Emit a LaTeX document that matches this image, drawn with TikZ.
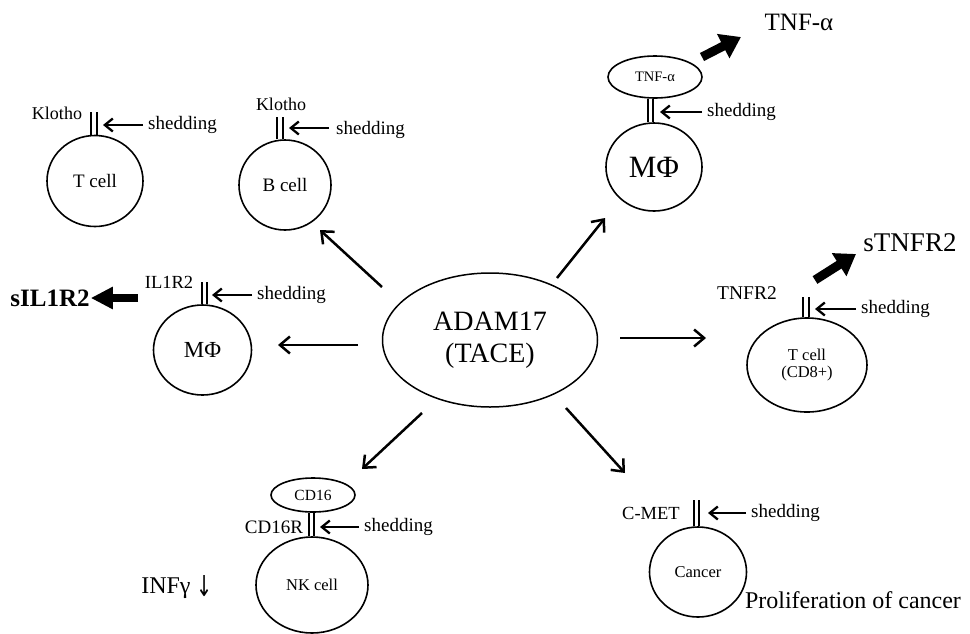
\documentclass[tikz,border=0pt]{standalone}
\usepackage{fontspec}
\usepackage{graphicx}
\setmainfont{Liberation Serif}
\newfontfamily\arrfont{DejaVu Sans}
\usetikzlibrary{shapes.geometric,arrows.meta}
\tikzset{
  cell/.style={draw,ellipse,line width=1.6pt,inner sep=0pt},
  lab/.style={inner sep=1pt},
  conn/.style={line width=2.5pt,-{Straight Barb[length=10pt,width=17pt,line width=2.5pt]}},
  shed/.style={line width=2.3pt,-{Straight Barb[length=8pt,width=13pt,line width=2.3pt]}},
  big/.style={line width=9pt,-{Triangle[length=20pt,width=26pt]}},
  rec/.style={line width=2.2pt},
}
\newcommand{\fs}[1]{\fontsize{#1}{#1}\selectfont}
\begin{document}
\begin{tikzpicture}[x=1pt,y=-1pt]
\useasboundingbox (0,0) rectangle (970,633);

% central node
\node[cell,line width=1.5pt,minimum width=215,minimum height=134,align=center,font=\fs{28}] (adam) at (490,340) {ADAM17\\[4pt](TACE)};

% T cell (Klotho)
\node[cell,minimum width=96,minimum height=91,font=\fs{19}] (tcell) at (95,181) {T cell};
\coordinate (tcr) at (94,112);
\draw[rec] ([xshift=-2.7]tcr |- tcell.north) -- ([xshift=-2.7]tcr) ([xshift=2.7]tcr |- tcell.north) -- ([xshift=2.7]tcr);
\node[lab,font=\fs{18}] (kl1) at (57,113) {Klotho};
\node[lab,anchor=west,font=\fs{19}] (sh1) at (147,125) {shedding};
\coordinate (sh1t) at (103,125);
\draw[shed] (sh1.west) ++(-4,0) -- (sh1t);

% B cell (Klotho)
\node[cell,minimum width=92,minimum height=90,font=\fs{19}] (bcell) at (285,185) {B cell};
\coordinate (bcr) at (280,117);
\draw[rec] ([xshift=-2.7]bcr |- bcell.north) -- ([xshift=-2.7]bcr) ([xshift=2.7]bcr |- bcell.north) -- ([xshift=2.7]bcr);
\node[lab,font=\fs{18}] (kl2) at (281,104) {Klotho};
\node[lab,anchor=west,font=\fs{19}] (sh2) at (335,130) {shedding};
\coordinate (sh2t) at (289,128);
\draw[shed] (sh2.west) ++(-6,-2) -- (sh2t);

% left macrophage (IL1R2)
\node[cell,minimum width=98,minimum height=90,font=\fs{23}] (mp1) at (202.5,350) {MΦ};
\coordinate (mp1r) at (204.5,282);
\draw[rec] ([xshift=-2.7]mp1r |- mp1.north) -- ([xshift=-2.7]mp1r) ([xshift=2.7]mp1r |- mp1.north) -- ([xshift=2.7]mp1r);
\node[lab,font=\fs{18.5}] (il1r2) at (169,282) {IL1R2};
\node[lab,anchor=west,font=\fs{19}] (sh3) at (256,295) {shedding};
\coordinate (sh3t) at (212,295);
\draw[shed] (sh3.west) ++(-4,0) -- (sh3t);
\node[lab,font=\bfseries\fs{25}] (sil) at (50,298) {sIL1R2};
\coordinate (silb) at (138,298);
\draw[line width=7.5pt,-{Triangle[length=22pt,width=21pt]}] (silb) -- (sil.east);

% top macrophage (TNF-alpha)
\node[cell,minimum width=96,minimum height=88,font=\fs{31}] (mp2) at (654,167) {MΦ};
\node[cell,minimum width=94,minimum height=42,font=\fs{14.5}] (tnfm) at (655,77) {TNF-α};
\coordinate (mp2r) at (650.5,98);
\draw[rec] ([xshift=-2.7]mp2r |- tnfm.south) -- ([xshift=-2.7]mp2r |- mp2.north) ([xshift=2.7]mp2r |- tnfm.south) -- ([xshift=2.7]mp2r |- mp2.north);
\node[lab,anchor=west,font=\fs{19}] (sh4) at (706,112) {shedding};
\coordinate (sh4t) at (660,112);
\draw[shed] (sh4.west) ++(-4,0) -- (sh4t);
\node[lab,font=\fs{25}] (tnfa) at (799,22) {TNF-α};
\coordinate (tnfab) at (702,57);
\coordinate (tnfat) at (741,37);
\draw[big] (tnfab) -- (tnfat);

% T cell CD8+ (TNFR2)
\node[cell,minimum width=120,minimum height=94,align=center,font=\fs{16.5}] (tcd8) at (807,365) {T cell\\[1pt](CD8+)};
\coordinate (tcdr) at (806,297);
\draw[rec] ([xshift=-2.7]tcdr |- tcd8.north) -- ([xshift=-2.7]tcdr) ([xshift=2.7]tcdr |- tcd8.north) -- ([xshift=2.7]tcdr);
\node[lab,font=\fs{19.5}] (tnfr2) at (747,293) {TNFR2};
\node[lab,anchor=west,font=\fs{19}] (sh5) at (860,309) {shedding};
\coordinate (sh5t) at (815,309);
\draw[shed] (sh5.west) ++(-4,0) -- (sh5t);
\node[lab,font=\fs{27}] (stnfr2) at (910,243) {sTNFR2};
\coordinate (stb) at (815,280);
\coordinate (stt) at (856,254);
\draw[big] (stb) -- (stt);

% NK cell (CD16)
\node[cell,minimum width=112,minimum height=96,font=\fs{16.5}] (nk) at (312,585) {NK cell};
\node[cell,minimum width=84,minimum height=34,font=\fs{15.5}] (cd16) at (313,495) {CD16};
\coordinate (nkr) at (311.5,512);
\draw[rec] ([xshift=-2.7]nkr |- cd16.south) -- ([xshift=-2.7]nkr |- nk.north) ([xshift=2.7]nkr |- cd16.south) -- ([xshift=2.7]nkr |- nk.north);
\node[lab,font=\fs{19}] (cd16r) at (274,527) {CD16R};
\node[lab,anchor=west,font=\fs{19}] (sh6) at (363,527) {shedding};
\coordinate (sh6t) at (320,527);
\draw[shed] (sh6.west) ++(-4,0) -- (sh6t);
\node[lab,font=\fs{24}] (infg) at (177,587) {INFγ \raisebox{-3pt}{\scalebox{0.8}[1.2]{\arrfont ↓}}};

% Cancer (C-MET)
\node[cell,minimum width=97,minimum height=90,font=\fs{16.5}] (cancer) at (698,572) {Cancer};
\coordinate (cmr) at (696.5,500);
\draw[rec] ([xshift=-2.7]cmr |- cancer.north) -- ([xshift=-2.7]cmr) ([xshift=2.7]cmr |- cancer.north) -- ([xshift=2.7]cmr);
\node[lab,font=\fs{18.5}] (cmet) at (651,513) {C-MET};
\node[lab,anchor=west,font=\fs{19}] (sh7) at (750,513) {shedding};
\coordinate (sh7t) at (708,513);
\draw[shed] (sh7.west) ++(-4,0) -- (sh7t);
\node[lab,font=\fs{24}] (prol) at (853,600) {Proliferation of cancer};

% connectors from ADAM17
\coordinate (a1s) at (382,287); \coordinate (a1e) at (320,230);
\coordinate (a2s) at (358,345); \coordinate (a2e) at (278,345);
\coordinate (a3s) at (557,278); \coordinate (a3e) at (605,218);
\coordinate (a4s) at (620,338); \coordinate (a4e) at (706,338);
\coordinate (a5s) at (422,413); \coordinate (a5e) at (362,469);
\coordinate (a6s) at (566,408); \coordinate (a6e) at (625,473);
\draw[conn] (a1s) -- (a1e);
\draw[conn] (a2s) -- (a2e);
\draw[conn] (a3s) -- (a3e);
\draw[conn] (a4s) -- (a4e);
\draw[conn] (a5s) -- (a5e);
\draw[conn] (a6s) -- (a6e);
\end{tikzpicture}
\end{document}
